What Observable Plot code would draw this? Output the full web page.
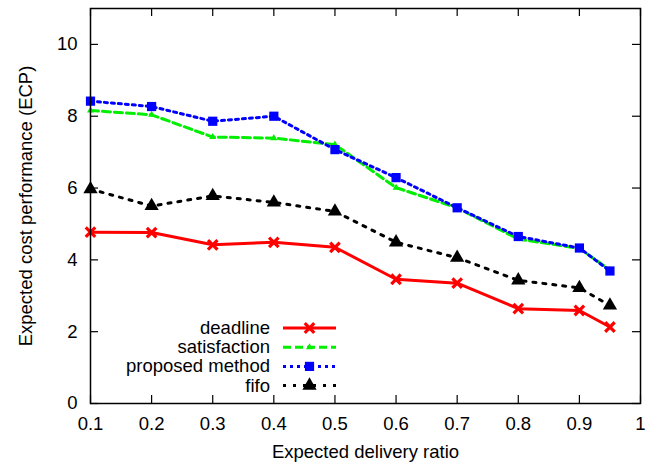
<!DOCTYPE html>
<html><head><meta charset="utf-8">
<script src="https://cdn.jsdelivr.net/npm/d3@7"></script>
<script src="https://cdn.jsdelivr.net/npm/@observablehq/plot@0.6"></script>
<style>
body{margin:0;background:#fff;}
#wrap{position:relative;width:662px;height:464px;}
#wrap svg{display:block;}
#legend{position:absolute;left:0;top:0;pointer-events:none;}
</style></head><body><div id="wrap"></div>
<script>
const ratio = [0.1, 0.2, 0.3, 0.4, 0.5, 0.6, 0.7, 0.8, 0.9, 0.95];
const deadline = [4.77, 4.76, 4.42, 4.49, 4.35, 3.46, 3.35, 2.64, 2.59, 2.13];
const satisfaction = [8.16, 8.04, 7.42, 7.39, 7.21, 6.01, 5.45, 4.58, 4.32, 3.72];
const proposed = [8.42, 8.27, 7.86, 8.0, 7.07, 6.29, 5.45, 4.65, 4.33, 3.69];
const fifo = [5.97, 5.5, 5.78, 5.6, 5.35, 4.49, 4.06, 3.43, 3.22, 2.73];
const seriesNames = ["deadline", "satisfaction", "proposed method", "fifo"];
const xTicks = [0.1, 0.2, 0.3, 0.4, 0.5, 0.6, 0.7, 0.8, 0.9, 1];
const yTicks = [0, 2, 4, 6, 8, 10];
const xLabel = "Expected delivery ratio";
const yLabel = "Expected cost performance (ECP)";

const W = 662, H = 464, mL = 90, mR = 22, mT = 8, mB = 61;
const innerW = W - mL - mR, innerH = H - mT - mB, tick = 8;
const font = "Liberation Sans, Arial, Helvetica, sans-serif";
const fs = 18.5;

const styles = [
  {name: seriesNames[0], vals: deadline, color: "#ff0000", dash: null, symbol: "times", r: 4.4, sw: 3, fill: "none", mstroke: "#ff0000", msw: 3.2},
  {name: seriesNames[1], vals: satisfaction, color: "#00ee00", dash: "8,4", symbol: "triangle", r: 2.6, sw: 3, fill: "#00ee00", mstroke: "none", msw: 0},
  {name: seriesNames[2], vals: proposed, color: "#0000ff", dash: "3,4", symbol: "square", r: 5.2, sw: 3, fill: "#0000ff", mstroke: "none", msw: 0},
  {name: seriesNames[3], vals: fifo, color: "#000000", dash: "3,7", symbol: "triangle", r: 5.3, sw: 3, fill: "#000000", mstroke: "none", msw: 0}
];

const marks = [];
for (const s of styles) {
  const rows = ratio.map((r, i) => ({r, v: s.vals[i]}));
  marks.push(Plot.line(rows, {x: "r", y: "v", stroke: s.color, strokeWidth: s.sw, strokeDasharray: s.dash || undefined}));
}
for (const s of styles) {
  const rows = ratio.map((r, i) => ({r, v: s.vals[i]}));
  marks.push(Plot.dot(rows, {x: "r", y: "v", symbol: () => s.symbol, r: s.r, fill: s.fill, stroke: s.mstroke, strokeWidth: s.msw}));
}

const chart = Plot.plot({
  width: W, height: H,
  marginLeft: mL, marginRight: mR, marginTop: mT, marginBottom: mB,
  style: {fontFamily: font, fontSize: fs + "px", color: "black", background: "white"},
  x: {domain: [0.1, 1]},
  y: {domain: [0, 11]},
  marks: [
    ...marks,
    Plot.ruleY(yTicks, {y: d => d, insetRight: innerW - tick, stroke: "black", strokeWidth: 1.2}),
    Plot.ruleY(yTicks, {y: d => d, insetLeft: innerW - tick, stroke: "black", strokeWidth: 1.2}),
    Plot.ruleX(xTicks, {x: d => d, insetTop: innerH - tick, stroke: "black", strokeWidth: 1.2}),
    Plot.ruleX(xTicks, {x: d => d, insetBottom: innerH - tick, stroke: "black", strokeWidth: 1.2}),
    Plot.frame({stroke: "black", strokeWidth: 1.5}),
    Plot.axisX(xTicks, {tickSize: 0, tickPadding: 13, tickFormat: d => String(d), fill: "black", label: xLabel, labelAnchor: "center", labelArrow: "none", labelOffset: 54}),
    Plot.axisY(yTicks, {tickSize: 0, tickPadding: 13, tickFormat: d => String(d), fill: "black", label: yLabel, labelAnchor: "center", labelArrow: "none", labelOffset: 72})
  ]
});
const wrap = document.getElementById("wrap");
wrap.appendChild(chart);

// legend overlay
const leg = d3.select(wrap).append("svg").attr("id", "legend").attr("width", W).attr("height", H);
const textRight = 270, lineX1 = 283, lineX2 = 336, row0 = 328, rowStep = 19.2;
styles.forEach((s, i) => {
  const y = row0 + i * rowStep;
  leg.append("text").attr("x", textRight).attr("y", y + 6).attr("text-anchor", "end")
    .attr("font-family", font).attr("font-size", fs).attr("fill", "black").text(s.name);
  leg.append("line").attr("x1", lineX1).attr("x2", lineX2).attr("y1", y).attr("y2", y)
    .attr("stroke", s.color).attr("stroke-width", s.sw).attr("stroke-dasharray", s.dash);
  const symMap = {times: d3.symbolTimes, triangle: d3.symbolTriangle, square: d3.symbolSquare};
  leg.append("path").attr("transform", `translate(${(lineX1 + lineX2) / 2},${y})`)
    .attr("d", d3.symbol(symMap[s.symbol], Math.PI * s.r * s.r)())
    .attr("fill", s.fill).attr("stroke", s.mstroke).attr("stroke-width", s.msw);
});
</script></body></html>
